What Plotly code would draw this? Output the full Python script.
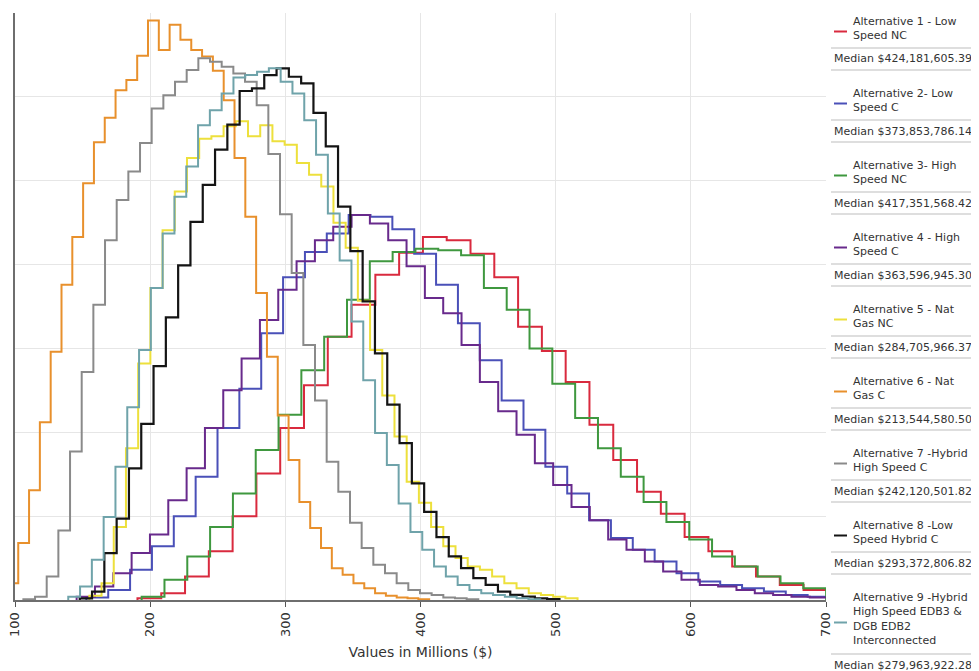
import numpy as np
import plotly.graph_objects as go

# ---------------- data ----------------
alt_names = [
    "Alternative 1 - Low<br>Speed NC",
    "Alternative 2- Low<br>Speed C",
    "Alternative 3- High<br>Speed NC",
    "Alternative 4 - High<br>Speed C",
    "Alternative 5 - Nat<br>Gas NC",
    "Alternative 6 - Nat<br>Gas C",
    "Alternative 7 -Hybrid<br>High Speed C",
    "Alternative 8 -Low<br>Speed Hybrid C",
    "Alternative 9 -Hybrid<br>High Speed EDB3 &amp;<br>DGB EDB2<br>Interconnected",
]
medians = [
    "$424,181,605.39", "$373,853,786.14", "$417,351,568.42", "$363,596,945.30",
    "$284,705,966.37", "$213,544,580.50", "$242,120,501.82", "$293,372,806.82",
    "$279,963,922.28",
]
# histogram bin start (millions $) and bin width per alternative
bin_start = [190.6, 152.8, 193.7, 145.6, 155.0, 94.4, 106.2, 147.9, 139.4]
bin_width = [17.6, 16.17, 16.88, 13.56, 9.03, 8.0, 8.63, 9.1, 8.73]

alt1_low_speed_nc = [0.02, 0.08, 0.28, 0.58, 1.0, 1.51, 2.05, 2.56, 3.14, 3.52, 3.88, 4.14, 4.33, 4.29,
                     4.13, 3.85, 3.26, 2.97, 2.6, 2.09, 1.67, 1.29, 1.03, 0.75, 0.58, 0.4, 0.28, 0.18, 0.12]
alt2_low_speed_c = [0.03, 0.12, 0.36, 0.64, 1.0, 1.47, 2.05, 2.52, 3.18, 3.85, 4.15, 4.37, 4.59, 4.57,
                    4.42, 4.13, 3.76, 3.3, 2.86, 2.38, 2.03, 1.59, 1.27, 0.95, 0.74, 0.6, 0.46, 0.32,
                    0.22, 0.18, 0.14, 0.1, 0.06, 0.04]
alt3_high_speed_nc = [0.04, 0.24, 0.52, 0.87, 1.27, 1.79, 2.21, 2.74, 3.14, 3.58, 4.04, 4.15, 4.19, 4.17,
                      4.11, 3.72, 3.46, 3.0, 2.58, 2.17, 1.81, 1.47, 1.17, 0.93, 0.72, 0.52, 0.4, 0.28,
                      0.2, 0.14]
alt4_high_speed_c = [0.04, 0.16, 0.32, 0.56, 0.78, 1.19, 1.57, 2.05, 2.5, 2.88, 3.34, 3.7, 4.04, 4.29,
                     4.45, 4.59, 4.49, 4.29, 3.98, 3.6, 3.42, 3.04, 2.6, 2.25, 1.97, 1.63, 1.37, 1.11,
                     0.95, 0.72, 0.6, 0.46, 0.34, 0.24, 0.18, 0.16, 0.12, 0.08, 0.06, 0.04, 0.03]
alt5_nat_gas_nc = [0.05, 0.2, 0.87, 1.81, 2.82, 3.72, 4.41, 4.87, 5.27, 5.5, 5.53, 5.65, 5.71, 5.53,
                   5.66, 5.47, 5.43, 5.21, 5.07, 4.93, 4.5, 4.2, 3.57, 2.98, 2.44, 1.95, 1.41, 1.16,
                   0.87, 0.64, 0.5, 0.4, 0.36, 0.28, 0.2, 0.14, 0.08, 0.06, 0.04, 0.02]
alt6_nat_gas_c = [0.2, 0.68, 1.31, 2.12, 2.96, 3.76, 4.33, 4.97, 5.46, 5.75, 6.08, 6.2, 6.49, 6.91,
                  6.56, 6.86, 6.68, 6.56, 6.48, 6.31, 5.96, 5.27, 4.57, 3.66, 2.9, 2.2, 1.67, 1.17,
                  0.86, 0.62, 0.38, 0.3, 0.2, 0.14, 0.08, 0.05, 0.03, 0.02, 0.01]
alt7_hybrid_hs_c = [0.01, 0.04, 0.28, 0.83, 1.77, 2.72, 3.52, 4.29, 4.77, 5.11, 5.45, 5.86, 6.02, 6.18,
                    6.32, 6.46, 6.42, 6.36, 6.28, 6.18, 5.9, 5.32, 4.6, 3.9, 3.04, 2.38, 1.65, 1.29,
                    0.92, 0.62, 0.42, 0.32, 0.2, 0.12, 0.08, 0.06, 0.03, 0.02, 0.01]
alt8_low_speed_hybrid_c = [0.02, 0.1, 0.56, 0.97, 1.57, 2.1, 2.79, 3.37, 3.99, 4.51, 4.95, 5.37, 5.67,
                           6.07, 6.1, 6.26, 6.34, 6.24, 6.16, 5.81, 5.41, 4.69, 4.16, 3.56, 2.94, 2.33,
                           1.87, 1.39, 1.05, 0.75, 0.52, 0.38, 0.26, 0.18, 0.1, 0.06, 0.04, 0.02, 0.01]
alt9_hybrid_interconnected = [0.04, 0.16, 0.48, 0.99, 1.59, 2.3, 2.98, 3.72, 4.37, 4.81, 5.17, 5.66,
                              5.84, 6.04, 6.23, 6.26, 6.3, 6.34, 6.18, 6.04, 5.72, 5.31, 4.61, 4.05,
                              3.32, 2.62, 1.99, 1.61, 1.15, 0.81, 0.6, 0.4, 0.28, 0.18, 0.12, 0.08,
                              0.06, 0.04, 0.02, 0.01]

series = [alt1_low_speed_nc, alt2_low_speed_c, alt3_high_speed_nc, alt4_high_speed_c,
          alt5_nat_gas_nc, alt6_nat_gas_c, alt7_hybrid_hs_c, alt8_low_speed_hybrid_c,
          alt9_hybrid_interconnected]

x_ticks = [100, 200, 300, 400, 500, 600, 700]

# ---------------- styles ----------------
colors = ["#d92a3e", "#4a50b8", "#3f983f", "#682a8c", "#ede03c",
          "#e8902c", "#8a8a8a", "#141414", "#6fa3aa"]
FONT = "DejaVu Sans"
TXT = "#333333"

PAGE = 8                      # default body margin of the html page
W, H = 979 - PAGE, 671 - PAGE
L, R, T, B = 7, 153, 5, 71
PW, PH = W - L - R, H - T - B


def px_x(px):
    return (px - PAGE - L) / PW


def px_y(py):
    return (PAGE + H - B - py) / PH


fig = go.Figure()
for i, h in enumerate(series):
    edges = bin_start[i] + bin_width[i] * np.arange(len(h) + 1)
    xs = [edges[0]] + list(edges)
    ys = [0] + list(h) + [0]
    fig.add_trace(go.Scatter(
        x=xs, y=ys, mode="lines",
        line=dict(shape="hv", color=colors[i], width=2.2 if i == 7 else 2),
        name=alt_names[i].replace("<br>", " "), showlegend=False,
    ))

# ---------------- custom legend panel ----------------
annotations = []
shapes = []
LINE_H = 15
for i, nm in enumerate(alt_names):
    nlines = nm.count("<br>") + 1
    y1 = 21 + 72 * i
    last = y1 + (nlines - 1) * LINE_H
    annotations.append(dict(
        xref="paper", yref="paper", x=px_x(851), y=px_y(y1 - 8),
        xanchor="left", yanchor="top", align="left", showarrow=False,
        text=nm, font=dict(family=FONT, size=11, color=TXT),
    ))
    cy = (y1 + last) / 2 + 3
    shapes.append(dict(type="line", xref="paper", yref="paper",
                       x0=px_x(834), x1=px_x(847), y0=px_y(cy), y1=px_y(cy),
                       line=dict(color=colors[i], width=2)))
    sep1 = last + 12
    med = sep1 + 11
    sep2 = med + 11
    for sy in (sep1, sep2):
        shapes.append(dict(type="line", xref="paper", yref="paper",
                           x0=px_x(831), x1=px_x(979), y0=px_y(sy), y1=px_y(sy),
                           line=dict(color="#bdbdbd", width=1)))
    annotations.append(dict(
        xref="paper", yref="paper", x=px_x(832), y=px_y(med),
        xanchor="left", yanchor="middle", showarrow=False,
        text="Median " + medians[i], font=dict(family=FONT, size=11, color=TXT),
    ))

fig.update_layout(
    width=W, height=H,
    margin=dict(l=L, r=R, t=T, b=B),
    paper_bgcolor="white", plot_bgcolor="white",
    font=dict(family=FONT, color=TXT),
    annotations=annotations, shapes=shapes,
    showlegend=False,
)
fig.update_xaxes(
    range=[100, 700], tickvals=x_ticks, ticktext=[str(v) for v in x_ticks],
    tickangle=-90, ticks="outside", ticklen=5, tickcolor="#555555",
    tickfont=dict(family=FONT, size=13, color=TXT),
    ticklabeloverflow="allow",
    showgrid=True, gridcolor="#e6e6e6", gridwidth=1,
    showline=True, linecolor="#6e6e6e", linewidth=2, zeroline=False,
    title=dict(text="Values in Millions ($)", font=dict(family=FONT, size=14, color=TXT),
               standoff=11),
    automargin=False,
)
fig.update_yaxes(
    range=[0, 7], dtick=1, showticklabels=False, ticks="",
    showgrid=True, gridcolor="#e6e6e6", gridwidth=1,
    showline=True, linecolor="#6e6e6e", linewidth=2, zeroline=False,
    automargin=False,
)

fig.write_html("out.html")
